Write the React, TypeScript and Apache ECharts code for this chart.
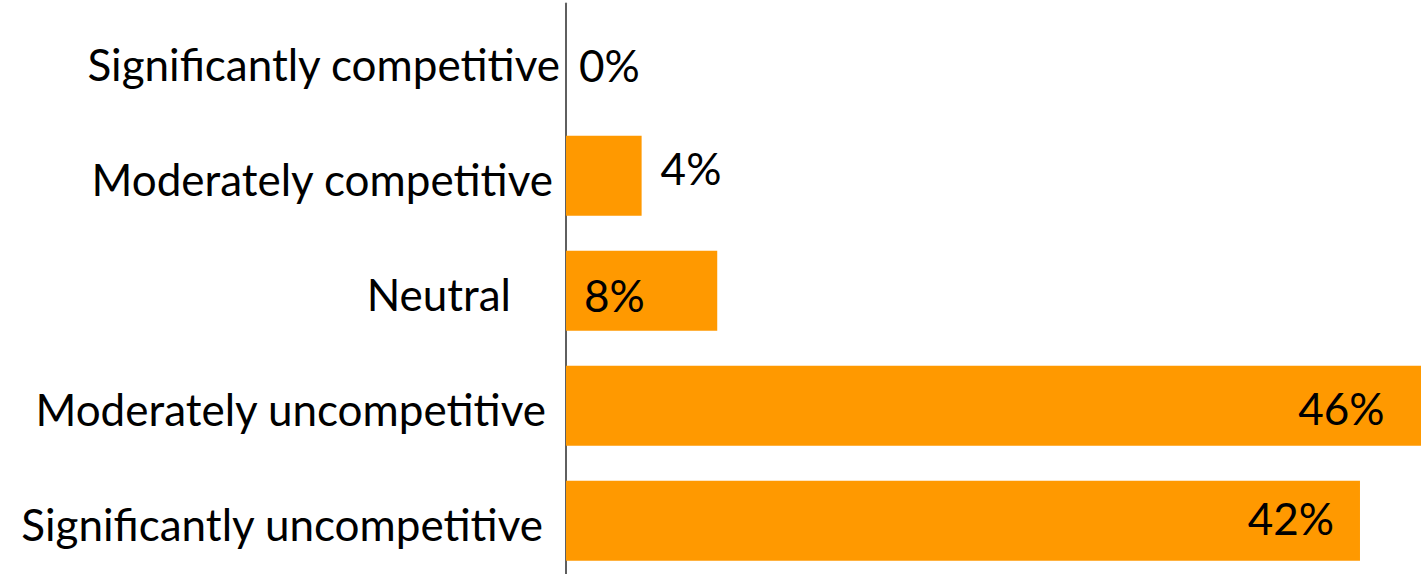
import React, { useEffect, useRef } from "react";
import * as echarts from "echarts";

const categories: string[] = [
  "Significantly competitive",
  "Moderately competitive",
  "Neutral",
  "Moderately uncompetitive",
  "Significantly uncompetitive",
];
const values: number[] = [0, 4, 8, 46, 42];
const valueLabels: string[] = ["0%", "4%", "8%", "46%", "42%"];

// styling only (per-category label placement)
const axisLabelRightPad = [0, 7, 49, 14, 17];
const barLabelStyles: any[] = [
  { position: "right", distance: 13, offset: [0, 4] },
  { position: "right", distance: 19, offset: [0, -8] },
  { position: "insideLeft", distance: 18, offset: [0, 4] },
  { position: "insideRight", distance: 51, offset: [0, 2] },
  { position: "insideRight", distance: 26, offset: [0, -2.5] },
];

const FONT = "Lato";
const FONT_SIZE = 44;
const ORANGE = "#FF9900";

export default function App() {
  const ref = useRef<HTMLDivElement>(null);
  useEffect(() => {
    if (!ref.current) return;
    const chart = echarts.init(ref.current, undefined, { renderer: "svg" });
    const rich: any = {};
    axisLabelRightPad.forEach((p, i) => {
      rich["c" + i] = {
        fontFamily: FONT,
        fontSize: FONT_SIZE,
        color: "#000000",
        padding: [6, p, 0, 0],
      };
    });
    chart.setOption({
      animation: false,
      backgroundColor: "#ffffff",
      grid: {
        left: 566,
        top: 3.4,
        width: 869.6,
        height: 574.7,
        containLabel: false,
        outerBoundsMode: "none",
      },
      xAxis: {
        type: "value",
        min: 0,
        max: 46,
        show: false,
        splitLine: { show: false },
      },
      yAxis: {
        type: "category",
        inverse: true,
        data: categories,
        axisLine: { show: true, lineStyle: { color: "#5f5f5f", width: 2 } },
        axisTick: { show: false },
        axisLabel: {
          margin: 6,
          formatter: (v: string, i: number) => `{c${i}|${v}}`,
          rich,
        },
      },
      series: [
        {
          type: "bar",
          barWidth: 80,
          clip: false,
          itemStyle: { color: ORANGE },
          data: values.map((v, i) => ({
            value: v,
            label: {
              show: true,
              fontFamily: FONT,
              fontSize: FONT_SIZE,
              color: "#000000",
              formatter: valueLabels[i],
              ...barLabelStyles[i],
            },
          })),
        },
      ],
    });
    return () => chart.dispose();
  }, []);
  return (
    <div
      ref={ref}
      style={{ position: "absolute", left: 0, top: 0, width: 1421, height: 574 }}
    />
  );
}
